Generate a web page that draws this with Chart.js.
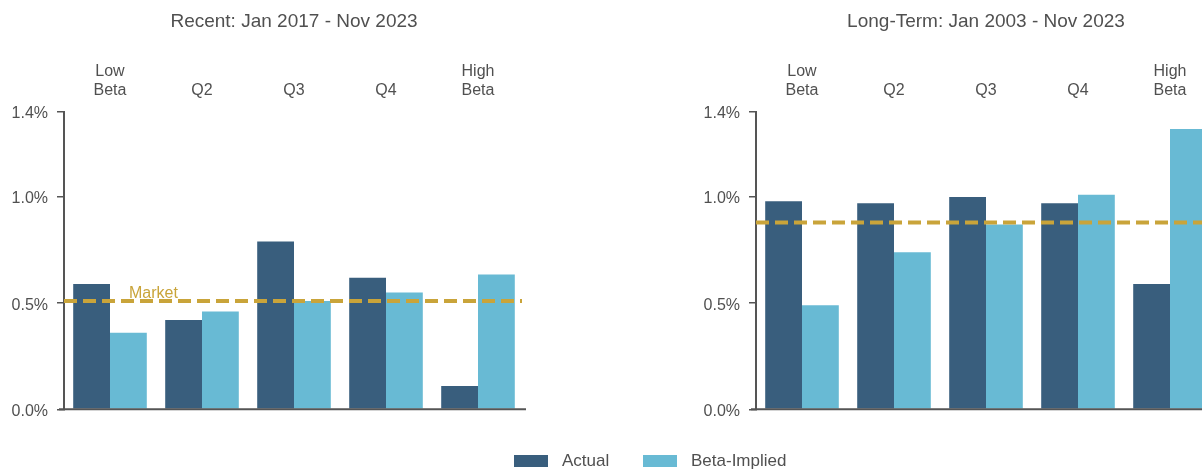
<!DOCTYPE html>
<html>
<head>
<meta charset="utf-8">
<script src="https://cdn.jsdelivr.net/npm/chart.js@4.4.1/dist/chart.umd.min.js"></script>
<style>
    body { margin: 0; width: 1202px; height: 470px; overflow: hidden; position: relative; background: #fff;
           font-family: 'Liberation Sans', Arial, sans-serif; }
    canvas { position: absolute; top: 0; }
    #recent { left: 0; }
    #longterm { left: 692px; }
    .legend { position: absolute; top: 449px; height: 24px; display: flex; align-items: center;
              font-size: 17px; color: #505050; }
    .swatch { width: 34px; height: 12px; margin-right: 14px; }
</style>
</head>
<body>
<canvas id="recent" width="588" height="470"></canvas>
<canvas id="longterm" width="588" height="470"></canvas>
<div class="legend" style="left:514px"><span class="swatch" style="background:#395e7d"></span>Actual</div>
<div class="legend" style="left:643px"><span class="swatch" style="background:#68bad4"></span>Beta-Implied</div>
<script>
const categories = [['Low', 'Beta'], 'Q2', 'Q3', 'Q4', ['High', 'Beta']];
const tickValues = [0, 0.5, 1.0, 1.4];

const recentActual = [0.59, 0.42, 0.79, 0.62, 0.11];
const recentImplied = [0.36, 0.46, 0.51, 0.55, 0.635];
const recentMarket = 0.51;

const longActual = [0.98, 0.97, 1.00, 0.97, 0.59];
const longImplied = [0.49, 0.74, 0.87, 1.01, 1.32];
const longMarket = 0.88;

const textColor = '#505050';
const axisColor = '#555555';
const gold = '#c9a43a';
const font = "'Liberation Sans', Arial, sans-serif";

// dashed market line, optional label, and the baseline
const marketLine = {
    id: 'marketLine',
    afterDatasetsDraw(chart, args, opts) {
        const { ctx, scales: { x, y } } = chart;
        const yPix = y.getPixelForValue(opts.value);
        ctx.save();
        ctx.strokeStyle = gold;
        ctx.lineWidth = 4;
        ctx.setLineDash([13, 6]);
        ctx.beginPath();
        ctx.moveTo(x.left, yPix);
        ctx.lineTo(x.right - 2, yPix);
        ctx.stroke();
        if (opts.label) {
            ctx.fillStyle = gold;
            ctx.font = '16px ' + font;
            ctx.textBaseline = 'alphabetic';
            ctx.fillText(opts.label, x.left + 65, yPix - 3);
        }
        const y0 = y.getPixelForValue(0);
        ctx.setLineDash([]);
        ctx.strokeStyle = axisColor;
        ctx.lineWidth = 2;
        ctx.beginPath();
        ctx.moveTo(x.left - 5, y0);
        ctx.lineTo(x.right + 2, y0);
        ctx.stroke();
        ctx.restore();
    }
};

function makeChart(id, title, actual, implied, market, label) {
    const ctx = document.getElementById(id).getContext('2d');
    return new Chart(ctx, {
        type: 'bar',
        data: {
            labels: categories,
            datasets: [
                { label: 'Actual', data: actual, backgroundColor: '#395e7d' },
                { label: 'Beta-Implied', data: implied, backgroundColor: '#68bad4' }
            ]
        },
        options: {
            responsive: false,
            animation: false,
            devicePixelRatio: 1,
            layout: { padding: { left: 0, right: 64, top: 0, bottom: 60.7 } },
            datasets: { bar: { categoryPercentage: 0.8, barPercentage: 1.0 } },
            plugins: {
                legend: { display: false },
                tooltip: { enabled: false },
                title: {
                    display: true,
                    text: title,
                    fullSize: false,
                    color: textColor,
                    font: { family: font, size: 19, weight: 'normal' },
                    padding: { top: 10, bottom: 0 }
                },
                marketLine: { value: market, label: label }
            },
            scales: {
                x: {
                    position: 'top',
                    grid: { display: false, drawTicks: false },
                    border: { display: false },
                    ticks: { color: textColor, font: { family: font, size: 16 }, padding: 12, maxRotation: 0 },
                    afterFit: s => { s.height = 79.2; }
                },
                y: {
                    min: 0,
                    max: 1.4,
                    afterBuildTicks: s => { s.ticks = tickValues.map(v => ({ value: v })); },
                    afterFit: s => { s.width = 64; },
                    border: { display: true, color: axisColor, width: 2 },
                    grid: { drawOnChartArea: false, tickLength: 7, color: axisColor, lineWidth: 1.5 },
                    ticks: {
                        color: textColor,
                        font: { family: font, size: 16 },
                        padding: 9,
                        labelOffset: 2,
                        callback: v => v.toFixed(1) + '%'
                    }
                }
            }
        },
        plugins: [marketLine]
    });
}

makeChart('recent', 'Recent: Jan 2017 - Nov 2023', recentActual, recentImplied, recentMarket, 'Market');
makeChart('longterm', 'Long-Term: Jan 2003 - Nov 2023', longActual, longImplied, longMarket, null);
</script>
</body>
</html>
